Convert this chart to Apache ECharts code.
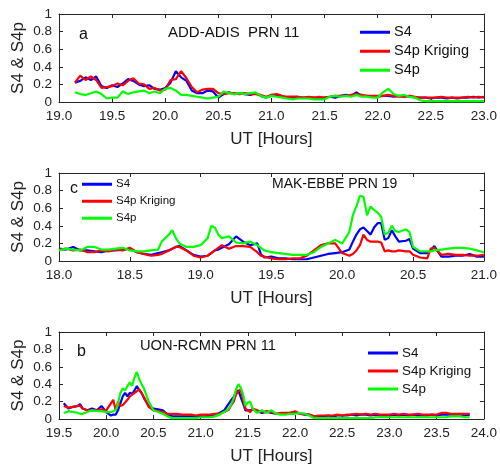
<!DOCTYPE html>
<html>
<head>
<meta charset="utf-8">
<script src="https://cdn.jsdelivr.net/npm/echarts@6/dist/echarts.min.js"></script>
<style>
  html, body { margin: 0; padding: 0; background: #fff; }
  #chart { width: 500px; height: 468px; }
</style>
</head>
<body>
<div id="chart"></div>
<script>
// Panel a: ADD-ADIS PRN 11
const timeA = [
  19.15,19.20,19.25,19.30,19.35,19.40,19.45,19.50,19.55,19.60,
  19.65,19.70,19.75,19.80,19.85,19.90,19.95,20.00,20.05,20.10,
  20.15,20.20,20.25,20.30,20.35,20.40,20.45,20.50,20.55,20.60,
  20.65,20.70,20.75,20.80,20.85,20.90,20.95,21.00,21.05,21.10,
  21.15,21.20,21.25,21.30,21.35,21.40,21.45,21.50,21.55,21.60,
  21.65,21.70,21.75,21.80,21.85,21.90,21.95,22.00,22.05,22.10,
  22.15,22.20,22.25,22.30,22.35,22.40,22.45,22.50,22.55,22.60,
  22.65,22.70,22.75,22.80,22.85,22.90,22.95,23.00
];
const s4A = [
  .22,.24,.28,.25,.29,.18,.16,.19,.17,.21,
  .26,.24,.20,.18,.19,.15,.14,.16,.22,.35,
  .28,.24,.13,.10,.10,.13,.12,.05,.09,.11,
  .09,.10,.09,.08,.10,.07,.05,.08,.07,.06,
  .05,.05,.05,.05,.05,.05,.04,.05,.06,.05,
  .07,.08,.07,.11,.07,.07,.06,.06,.07,.07,
  .06,.07,.06,.07,.05,.05,.05,.04,.05,.05,
  .04,.05,.04,.05,.05,.06,.05,.06
];
const krigA = [
  .22,.30,.25,.29,.25,.16,.17,.18,.21,.19,
  .24,.27,.21,.20,.15,.16,.13,.14,.25,.26,
  .35,.27,.17,.11,.14,.15,.15,.10,.09,.10,
  .10,.09,.10,.09,.09,.08,.06,.08,.09,.07,
  .06,.06,.06,.05,.06,.05,.06,.05,.06,.07,
  .07,.07,.08,.09,.08,.07,.07,.07,.07,.08,
  .07,.06,.06,.07,.06,.05,.05,.05,.05,.06,
  .05,.05,.05,.05,.06,.05,.06,.05
];
const s4pA = [
  .11,.09,.08,.10,.12,.09,.04,.05,.05,.12,
  .09,.11,.12,.13,.10,.12,.10,.15,.16,.13,
  .08,.08,.07,.06,.05,.04,.05,.06,.12,.10,
  .09,.10,.09,.10,.11,.07,.05,.07,.06,.05,
  .04,.03,.04,.04,.04,.03,.03,.03,.06,.07,
  .06,.07,.06,.08,.06,.06,.05,.05,.11,.15,
  .09,.07,.08,.06,.05,.02,.01,.01,.01,.01,
  .01,.01,.01,.01,.01,.01,.01,.01
];

// Panel c: MAK-EBBE PRN 19
const timeC = [
  18.00,18.05,18.10,18.15,18.20,18.25,18.30,18.35,18.40,18.45,
  18.50,18.55,18.60,18.65,18.70,18.725,18.75,18.775,18.80,18.825,
  18.85,18.90,18.95,19.00,19.05,19.075,19.10,19.125,19.15,19.20,
  19.25,19.30,19.35,19.40,19.425,19.45,19.50,19.55,19.60,19.65,
  19.70,19.75,19.80,19.85,19.90,19.95,20.00,20.05,20.075,20.10,
  20.125,20.15,20.175,20.20,20.225,20.25,20.275,20.30,20.325,20.35,
  20.375,20.40,20.45,20.475,20.50,20.55,20.60,20.625,20.65,20.70,
  20.75,20.80,20.85,20.90,20.95,21.00
];
const s4C = [
  .14,.13,.16,.12,.12,.11,.10,.12,.12,.13,
  .14,.10,.08,.07,.09,.10,.11,.12,.14,.16,
  .17,.12,.07,.05,.06,.09,.12,.13,.15,.19,
  .28,.22,.18,.20,.08,.04,.05,.03,.03,.02,
  .02,.02,.04,.06,.08,.09,.10,.13,.22,.30,
  .36,.38,.34,.30,.38,.43,.43,.24,.26,.35,
  .28,.22,.23,.25,.14,.09,.09,.12,.17,.05,
  .05,.06,.06,.08,.05,.05
];
const krigC = [
  .13,.14,.12,.13,.10,.10,.12,.11,.13,.12,
  .15,.10,.08,.06,.07,.08,.10,.12,.14,.16,
  .16,.12,.06,.04,.06,.09,.12,.15,.18,.14,
  .17,.17,.16,.10,.06,.05,.03,.02,.02,.03,
  .03,.06,.12,.18,.20,.20,.09,.06,.08,.12,
  .18,.30,.24,.22,.22,.22,.21,.11,.12,.11,
  .11,.12,.11,.11,.07,.04,.03,.14,.15,.07,
  .08,.07,.07,.06,.06,.07
];
const s4pC = [
  .12,.14,.13,.12,.16,.16,.13,.13,.14,.15,
  .12,.11,.11,.12,.13,.22,.26,.30,.35,.26,
  .20,.16,.16,.18,.26,.40,.38,.30,.26,.28,
  .21,.20,.22,.18,.15,.12,.10,.09,.08,.07,
  .07,.07,.10,.16,.20,.24,.20,.33,.52,.62,
  .74,.73,.52,.62,.58,.55,.50,.30,.32,.40,
  .34,.33,.36,.33,.16,.11,.11,.11,.12,.13,
  .14,.15,.15,.14,.12,.10
];

// Panel b: UON-RCMN PRN 11
const timeB = [
  19.55,19.60,19.65,19.70,19.725,19.75,19.80,19.85,19.90,19.95,
  20.00,20.05,20.075,20.10,20.125,20.15,20.175,20.20,20.225,20.25,
  20.275,20.30,20.325,20.35,20.375,20.40,20.45,20.50,20.55,20.60,
  20.65,20.70,20.75,20.80,20.85,20.90,20.95,21.00,21.05,21.10,
  21.15,21.20,21.25,21.30,21.325,21.35,21.375,21.40,21.425,21.45,
  21.475,21.50,21.525,21.55,21.60,21.65,21.70,21.75,21.80,21.85,
  21.90,21.95,22.00,22.05,22.10,22.15,22.20,22.25,22.30,22.35,
  22.40,22.45,22.50,22.55,22.60,22.65,22.70,22.75,22.80,22.85,
  22.90,22.95,23.00,23.05,23.10,23.15,23.20,23.25,23.30,23.35,
  23.40,23.45,23.50,23.55,23.60,23.65,23.70,23.75,23.80,23.85
];
const s4B = [
  .18,.12,.14,.15,.17,.12,.10,.12,.10,.15,
  .08,.04,.05,.05,.10,.18,.26,.30,.26,.30,
  .29,.33,.38,.33,.30,.24,.15,.12,.11,.10,
  .05,.03,.03,.03,.03,.03,.03,.03,.03,.04,
  .05,.07,.10,.18,.22,.25,.31,.33,.25,.18,
  .10,.10,.10,.11,.09,.07,.08,.07,.06,.06,
  .06,.07,.08,.06,.05,.05,.03,.03,.03,.04,
  .03,.04,.04,.04,.05,.04,.05,.05,.04,.05,
  .04,.04,.04,.05,.04,.05,.04,.05,.04,.04,
  .04,.05,.04,.05,.05,.05,.05,.05,.04,.05
];
const krigB = [
  .15,.13,.14,.15,.15,.12,.10,.10,.10,.11,
  .10,.18,.22,.10,.20,.15,.16,.19,.22,.26,
  .28,.30,.32,.34,.30,.25,.14,.10,.09,.08,
  .06,.06,.06,.05,.05,.05,.04,.05,.05,.05,
  .06,.06,.08,.11,.16,.20,.28,.32,.34,.22,
  .12,.10,.08,.12,.10,.08,.09,.08,.06,.07,
  .07,.07,.09,.06,.06,.05,.03,.04,.04,.04,
  .04,.05,.04,.05,.05,.06,.05,.06,.05,.06,
  .05,.05,.05,.06,.05,.06,.05,.05,.06,.05,
  .05,.05,.05,.07,.07,.06,.06,.06,.06,.06
];
const s4pB = [
  .07,.09,.08,.07,.06,.06,.08,.10,.09,.09,
  .08,.08,.09,.10,.18,.30,.35,.33,.38,.42,
  .38,.48,.54,.46,.40,.35,.20,.10,.08,.06,
  .03,.01,.01,.01,.01,.01,.01,.02,.02,.02,
  .03,.05,.08,.12,.17,.24,.34,.40,.36,.28,
  .15,.19,.20,.12,.07,.10,.07,.10,.06,.05,
  .05,.06,.06,.07,.06,.04,.01,.01,.01,.01,
  .01,.01,.01,.01,.01,.01,.01,.01,.01,.02,
  .02,.02,.02,.02,.02,.02,.02,.02,.02,.02,
  .02,.02,.02,.02,.02,.03,.03,.03,.02,.02
];

const seriesNames = ['S4', 'S4p Kriging', 'S4p'];
const seriesColors = ['#0000ff', '#ff0000', '#00ff00'];
const yTicks = [0, 0.2, 0.4, 0.6, 0.8, 1];
const xRangeA = [19, 23];
const xRangeC = [18, 21];
const xRangeB = [19.5, 24];
const titleA = 'ADD-ADIS  PRN 11';
const titleC = 'MAK-EBBE PRN 19';
const titleB = 'UON-RCMN PRN 11';
const xName = 'UT [Hours]';
const yName = 'S4 & S4p';

const FONT = '"Liberation Sans", Arial, Helvetica, sans-serif';
const INK = '#262626';

const panels = [
  { time: timeA, vals: [s4A, krigA, s4pA], range: xRangeA, top: 14, height: 88 },
  { time: timeC, vals: [s4C, krigC, s4pC], range: xRangeC, top: 173, height: 88 },
  { time: timeB, vals: [s4B, krigB, s4pB], range: xRangeB, top: 332, height: 87 }
];

const grid = [], xAxis = [], yAxis = [], series = [];
const axisLine = { show: true, onZero: false, lineStyle: { color: INK, width: 1 } };
const tick = { show: true, inside: true, length: 4, lineStyle: { color: INK, width: 1 } };

panels.forEach((p, g) => {
  grid.push({ left: 59, width: 428, top: p.top, height: p.height, containLabel: false });
  xAxis.push({
    gridIndex: g, type: 'value', position: 'bottom',
    min: p.range[0], max: p.range[1], interval: 0.5,
    axisLine, axisTick: tick, splitLine: { show: false },
    axisLabel: {
      show: true, margin: 7, color: '#222', fontSize: 13.5, fontFamily: FONT,
      showMinLabel: true, showMaxLabel: true,
      formatter: v => v.toFixed(1)
    },
    name: xName, nameLocation: 'middle', nameGap: 29, nameMoveOverlap: false,
    nameTextStyle: { color: '#222', fontSize: 17, fontFamily: FONT }
  });
  xAxis.push({
    gridIndex: g, type: 'value', position: 'top',
    min: p.range[0], max: p.range[1], interval: 0.5,
    axisLine, axisTick: tick, axisLabel: { show: false }, splitLine: { show: false }
  });
  yAxis.push({
    gridIndex: g, type: 'value', position: 'left',
    min: yTicks[0], max: yTicks[yTicks.length - 1], interval: 0.2,
    axisLine, axisTick: tick, splitLine: { show: false },
    axisLabel: {
      show: true, margin: 7, color: '#222', fontSize: 13.5, fontFamily: FONT,
      formatter: v => (v === 0 ? '0' : v === 1 ? '1' : v.toFixed(1))
    },
    name: yName, nameLocation: 'middle', nameGap: 32, nameRotate: 90, nameMoveOverlap: false,
    nameTextStyle: { color: '#222', fontSize: 17, fontFamily: FONT }
  });
  yAxis.push({
    gridIndex: g, type: 'value', position: 'right',
    min: yTicks[0], max: yTicks[yTicks.length - 1], interval: 0.2,
    axisLine, axisTick: tick, axisLabel: { show: false }, splitLine: { show: false }
  });
  p.vals.forEach((arr, k) => {
    series.push({
      type: 'line', name: seriesNames[k],
      xAxisIndex: 2 * g, yAxisIndex: 2 * g,
      data: p.time.map((t, i) => [t, arr[i]]),
      symbol: 'none', smooth: false, animation: false,
      lineStyle: { color: seriesColors[k], width: 2.2 },
      itemStyle: { color: seriesColors[k] }
    });
  });
});

// Vertical legend drawn as plain line swatches (no point markers)
function legendAt(left, rowCenter, fontSize, spacing) {
  return {
    orient: 'vertical', left, top: rowCenter - fontSize / 2, padding: 0,
    itemWidth: 30, itemHeight: 3, itemGap: spacing - fontSize,
    selectedMode: false,
    icon: 'rect',
    data: seriesNames.map((n, k) => ({ name: n, icon: 'rect', itemStyle: { color: seriesColors[k] } })),
    textStyle: { fontSize, fontFamily: FONT, color: '#111', lineHeight: fontSize, padding: [0, 0, 0, -1] }
  };
}

function label(text, x, y, size) {
  return {
    type: 'text', left: x, top: y, silent: true,
    style: { text, fontSize: size, fontFamily: FONT, fill: '#111' }
  };
}

const option = {
  backgroundColor: '#fff',
  animation: false,
  grid, xAxis, yAxis, series,
  legend: [
    legendAt(360, 32, 14.5, 18.5),
    legendAt(82, 184, 11.5, 16.5),
    legendAt(368, 353, 13.4, 18)
  ],
  graphic: [
    label('a', 79, 27, 16),
    label(titleA, 168, 25, 15),
    label('c', 70, 181, 16),
    label(titleC, 272, 177, 14),
    label('b', 77, 344, 16),
    label(titleB, 140, 338, 14.7)
  ]
};

const chart = echarts.init(document.getElementById('chart'), null, { renderer: 'canvas' });
chart.setOption(option);
</script>
</body>
</html>
